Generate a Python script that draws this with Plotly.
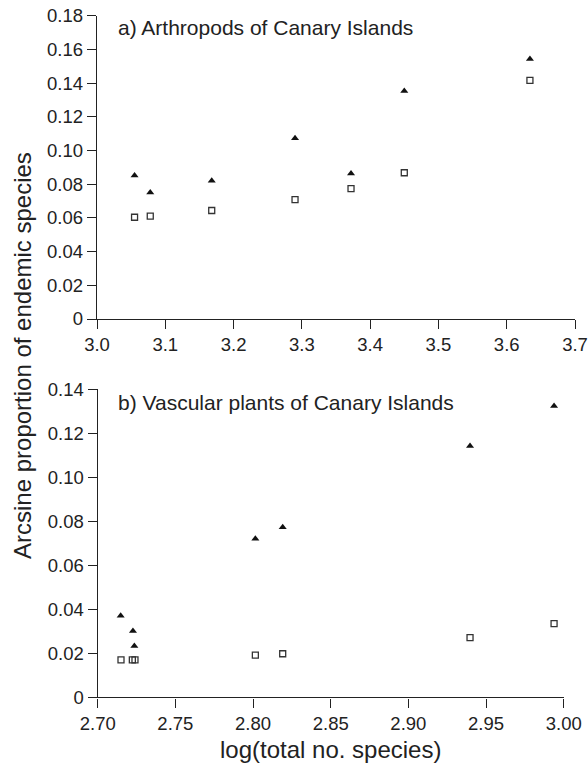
import plotly.graph_objects as go

# Panel a) Arthropods of Canary Islands
arth_x = [3.055, 3.078, 3.168, 3.290, 3.372, 3.450, 3.634]
arth_tri = [0.0852, 0.0751, 0.0820, 0.1072, 0.0864, 0.1353, 0.1543]
arth_sq = [0.0604, 0.0610, 0.0644, 0.0709, 0.0774, 0.0868, 0.1416]

# Panel b) Vascular plants of Canary Islands
plant_x_tri = [2.7148, 2.7227, 2.7236, 2.8015, 2.8191, 2.9397, 2.9938]
plant_tri = [0.0371, 0.0301, 0.0233, 0.0721, 0.0773, 0.1142, 0.1324]
plant_x_sq = [2.7150, 2.7223, 2.7240, 2.8015, 2.8191, 2.9397, 2.9938]
plant_sq = [0.0170, 0.0170, 0.0170, 0.0192, 0.0198, 0.0271, 0.0335]

top_y_ticks = [0, 0.02, 0.04, 0.06, 0.08, 0.10, 0.12, 0.14, 0.16, 0.18]
top_y_text = ["0", "0.02", "0.04", "0.06", "0.08", "0.10", "0.12", "0.14", "0.16", "0.18"]
top_x_ticks = [3.0, 3.1, 3.2, 3.3, 3.4, 3.5, 3.6, 3.7]
top_x_text = ["3.0", "3.1", "3.2", "3.3", "3.4", "3.5", "3.6", "3.7"]
bot_y_ticks = [0, 0.02, 0.04, 0.06, 0.08, 0.10, 0.12, 0.14]
bot_y_text = ["0", "0.02", "0.04", "0.06", "0.08", "0.10", "0.12", "0.14"]
bot_x_ticks = [2.70, 2.75, 2.80, 2.85, 2.90, 2.95, 3.00]
bot_x_text = ["2.70", "2.75", "2.80", "2.85", "2.90", "2.95", "3.00"]

W, H = 588, 764
FONT = "Liberation Sans, Arial, sans-serif"
INK = "#222222"

tri = dict(symbol="triangle-up", size=7, color="#111111", line=dict(width=0))
sq = dict(symbol="square-open", size=6, color="#333333", line=dict(width=1.3))

fig = go.Figure()
fig.add_trace(go.Scatter(x=arth_x, y=arth_tri, mode="markers", marker=tri, xaxis="x", yaxis="y", showlegend=False))
fig.add_trace(go.Scatter(x=arth_x, y=arth_sq, mode="markers", marker=sq, xaxis="x", yaxis="y", showlegend=False))
fig.add_trace(go.Scatter(x=plant_x_tri, y=plant_tri, mode="markers", marker=tri, xaxis="x2", yaxis="y2", showlegend=False))
fig.add_trace(go.Scatter(x=plant_x_sq, y=plant_sq, mode="markers", marker=sq, xaxis="x2", yaxis="y2", showlegend=False))

axis_common = dict(showline=True, linecolor=INK, linewidth=1.4, ticks="outside",
                   ticklen=9, tickwidth=1.4, tickcolor=INK, showgrid=False,
                   zeroline=False, tickfont=dict(family=FONT, size=18.5, color=INK),
                   mirror=False, automargin=False)

def px_x(p):
    return p / W

def px_y(p):
    return 1 - p / H

fig.update_layout(
    width=W, height=H,
    margin=dict(l=0, r=0, t=0, b=0),
    paper_bgcolor="white", plot_bgcolor="white",
    font=dict(family=FONT, color=INK),
    xaxis=dict(domain=[px_x(97), px_x(575)], range=[3.0, 3.7], anchor="y",
               tickvals=top_x_ticks, ticktext=top_x_text, **axis_common),
    yaxis=dict(domain=[px_y(319), px_y(15.7)], range=[0, 0.18], anchor="x",
               tickvals=top_y_ticks, ticktext=top_y_text, **axis_common),
    xaxis2=dict(domain=[px_x(97.7), px_x(563.7)], range=[2.70, 3.00], anchor="y2",
                tickvals=bot_x_ticks, ticktext=bot_x_text, **axis_common),
    yaxis2=dict(domain=[px_y(697.3), px_y(389.3)], range=[0, 0.14], anchor="x2",
                tickvals=bot_y_ticks, ticktext=bot_y_text, **axis_common),
)

fig.add_annotation(text="a) Arthropods of Canary Islands", xref="paper", yref="paper",
                   x=px_x(116), y=px_y(28), xanchor="left", yanchor="middle",
                   showarrow=False, font=dict(family=FONT, size=21, color=INK))
fig.add_annotation(text="b) Vascular plants of Canary Islands", xref="paper", yref="paper",
                   x=px_x(116), y=px_y(402), xanchor="left", yanchor="middle",
                   showarrow=False, font=dict(family=FONT, size=21, color=INK))
fig.add_annotation(text="Arcsine proportion of endemic species", xref="paper", yref="paper",
                   x=px_x(22), y=px_y(356), xanchor="center", yanchor="middle", textangle=-90,
                   showarrow=False, font=dict(family=FONT, size=24, color=INK))
fig.add_annotation(text="log(total no. species)", xref="paper", yref="paper",
                   x=px_x(330), y=px_y(749), xanchor="center", yanchor="middle",
                   showarrow=False, font=dict(family=FONT, size=24, color=INK))

fig.write_html("out.html")
